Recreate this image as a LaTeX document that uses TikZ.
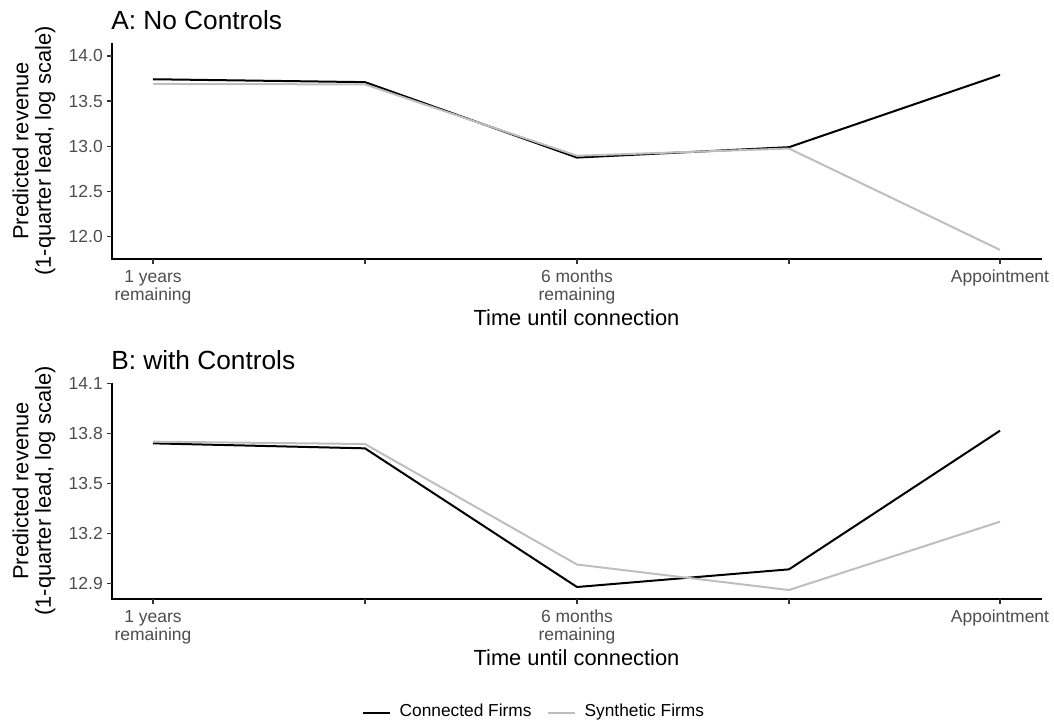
\documentclass[tikz,border=0pt]{standalone}
\usepackage{fontspec}
\setmainfont{Liberation Sans}
\usetikzlibrary{positioning}
\definecolor{synthgray}{RGB}{190,190,190}
\definecolor{labelgray}{RGB}{77,77,77}
\definecolor{tickgray}{RGB}{51,51,51}

\begin{document}
\begin{tikzpicture}[x=0.75pt, y=-0.75pt,
  connected/.style={black, line width=1.5pt, line join=round},
  synthetic/.style={synthgray, line width=1.5pt, line join=round},
  axisline/.style={black, line width=1.6pt},
  tickmark/.style={tickgray, line width=1.1pt},
  ticklabel/.style={text=labelgray, font=\fontsize{13.1}{13.5}\selectfont, inner sep=0pt, align=center},
  axistitle/.style={font=\fontsize{16.4}{17}\selectfont, inner sep=0pt, align=center},
  paneltitle/.style={font=\fontsize{19.7}{22}\selectfont, inner sep=0pt, anchor=base west},
  legendtext/.style={font=\fontsize{13}{15}\selectfont, inner sep=0pt}]
\useasboundingbox (0,0) rectangle (1054,726);

% panel A
\node[paneltitle] (titleA) at (111,29) {A: No Controls};
\draw[axisline] (112,43) -- (112,259) -- (1042,259);
\foreach \x in {153,365,577,789,1000}
  \draw[tickmark] (\x,259) -- (\x,264);
\node[ticklabel, anchor=north] (yearA) at (153,270) {1 years\\remaining};
\node[ticklabel, anchor=north] (sixA) at (577,270) {6 months\\remaining};
\node[ticklabel, anchor=north] (apptA) at (1000,270) {Appointment};
\node[axistitle, anchor=base] (xtitleA) at (576.5,325) {Time until connection};
\node[axistitle, rotate=90] (ytitleA) at (34,151) {Predicted revenue\\(1-quarter lead, log scale)};
\begin{scope}[yshift=-990.45pt, y=67.75pt]
  \foreach \v [count=\i] in {12.0,12.5,13.0,13.5,14.0} {
    \draw[tickmark] (107,\v) -- (112,\v);
    \node[ticklabel, anchor=east] (ytickA\i) at (103,\v) {\v};
  }
  \draw[connected] plot coordinates {(153,13.742) (365,13.71) (577,12.875) (789,12.99) (1000,13.79)};
  \draw[synthetic] plot coordinates {(153,13.69) (365,13.685) (577,12.895) (789,12.975) (1000,11.853)};
\end{scope}

% panel B
\node[paneltitle] (titleB) at (111,369) {B: with Controls};
\draw[axisline] (112,383) -- (112,599) -- (1042,599);
\foreach \x in {153,365,577,789,1000}
  \draw[tickmark] (\x,599) -- (\x,604);
\node[ticklabel, anchor=north] (yearB) at (153,610) {1 years\\remaining};
\node[ticklabel, anchor=north] (sixB) at (577,610) {6 months\\remaining};
\node[ticklabel, anchor=north] (apptB) at (1000,610) {Appointment};
\node[axistitle, anchor=base] (xtitleB) at (576.5,665) {Time until connection};
\node[axistitle, rotate=90] (ytitleB) at (34,491) {Predicted revenue\\(1-quarter lead, log scale)};
\begin{scope}[yshift=-2050pt, y=125pt]
  \foreach \v [count=\i] in {12.9,13.2,13.5,13.8,14.1} {
    \draw[tickmark] (107,\v) -- (112,\v);
    \node[ticklabel, anchor=east] (ytickB\i) at (103,\v) {\v};
  }
  \draw[connected] plot coordinates {(153,13.74) (365,13.71) (577,12.878) (789,12.984) (1000,13.816)};
  \draw[synthetic] plot coordinates {(153,13.75) (365,13.736) (577,13.013) (789,12.86) (1000,13.27)};
\end{scope}

% legend
\coordinate (keyC) at (363,713);
\coordinate (keyS) at (548,713);
\draw[connected] (keyC) -- ++(27,0) coordinate (keyCend);
\node[legendtext, mid right=7pt of keyCend] (legC) {Connected Firms};
\draw[synthetic] (keyS) -- ++(27,0) coordinate (keySend);
\node[legendtext, mid right=7pt of keySend] (legS) {Synthetic Firms};
\end{tikzpicture}
\end{document}
